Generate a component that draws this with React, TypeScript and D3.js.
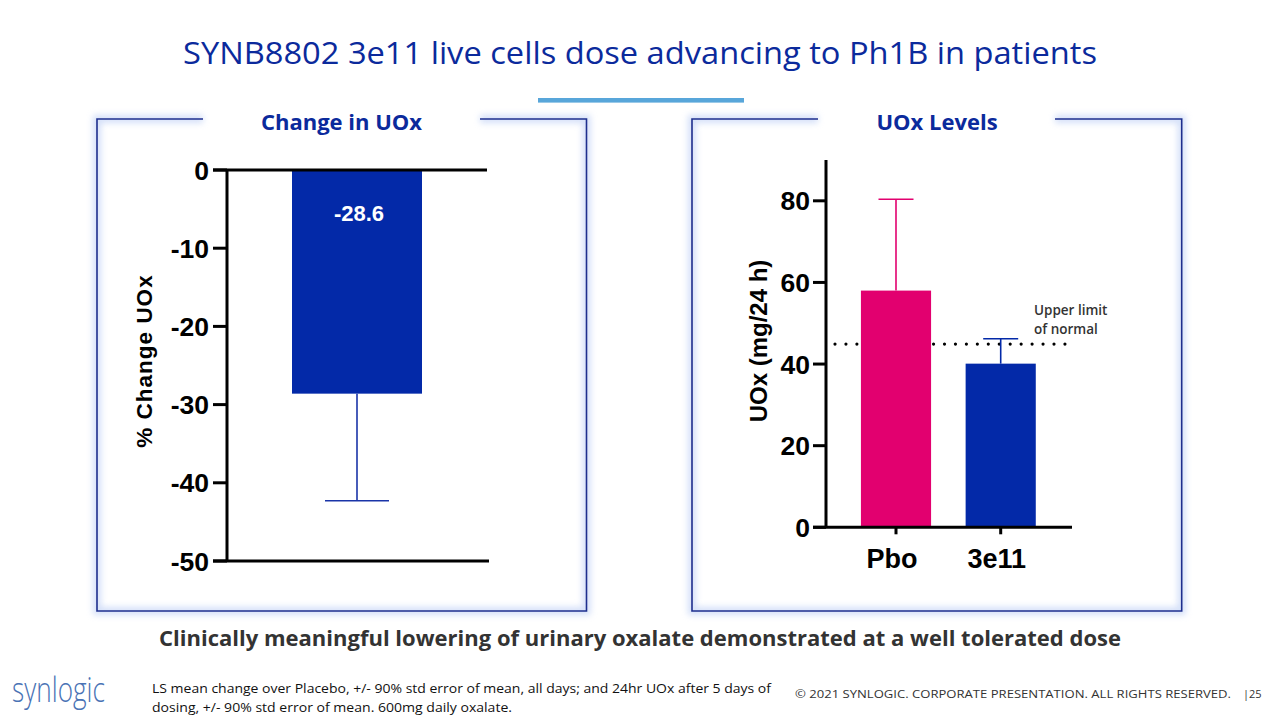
import React from "react";
import * as d3 from "d3";

// ---------- data ----------
const titleText = "SYNB8802 3e11 live cells dose advancing to Ph1B in patients";
const subtitleText = "Clinically meaningful lowering of urinary oxalate demonstrated at a well tolerated dose";
const footnoteLines = [
  "LS mean change over Placebo, +/- 90% std error of mean, all days; and 24hr UOx after 5 days of",
  "dosing, +/- 90% std error of mean. 600mg daily oxalate.",
];
const copyrightText = "© 2021 SYNLOGIC. CORPORATE PRESENTATION. ALL RIGHTS RESERVED.";
const pageNumber = "|25";

// Left panel: % change in UOx
const changeCategories = ["3e11"];
const changeValues = [-28.6];
const changeErrLow = [-42.3];
const changeTicks = [0, -10, -20, -30, -40, -50];

// Right panel: UOx levels
const levelCategories = ["Pbo", "3e11"];
const levelValues = [58.0, 40.1];
const levelErrHigh = [80.4, 46.2];
const levelColors = ["#e2006f", "#0329a8"];
const levelTicks = [0, 20, 40, 60, 80];
const upperLimitNormal = 44.9;

const NAVY = "#0b2a9c";
const AXIS = "#000";
const ARIAL = "'Liberation Sans', Arial, sans-serif";
const CAL = "'Open Sans', 'Noto Sans', sans-serif";

export default function App() {
  // left scales
  const yL = d3.scaleLinear().domain([-50, 0]).range([561, 170]);
  const xL = d3.scaleBand().domain(changeCategories).range([227, 487]).paddingInner(0.5).paddingOuter(0.25);
  // right scales
  const yR = d3.scaleLinear().domain([0, 90]).range([527.3, 160]);
  const xR = d3.scaleBand().domain(levelCategories).range([843.65, 1053.05]).paddingInner(0.33).paddingOuter(0.165);

  const panel = (x0: number, x1: number, g0: number, g1: number) => {
    const top = 119, bot = 611;
    const p = `M${g0},${top} H${x0} V${bot} H${x1} V${top} H${g1}`;
    return (
      <g>
        <path d={p} fill="none" stroke="#a9c0f2" strokeWidth={8} opacity={0.5} filter="url(#blur)" />
        <path d={p} fill="none" stroke="#1e2f8e" strokeWidth={1.6} />
      </g>
    );
  };

  return (
    <svg width={1280} height={720} style={{ position: "absolute", left: 0, top: 0, display: "block", background: "#fff" }}>
      <defs>
        <filter id="blur" x="-10%" y="-10%" width="120%" height="120%">
          <feGaussianBlur stdDeviation={3} />
        </filter>
      </defs>

      {/* Title */}
      <text x={640} y={64} textAnchor="middle" fontFamily={CAL} fontSize={31} fill={NAVY} textLength={914} lengthAdjust="spacingAndGlyphs">
        {titleText}
      </text>
      <rect x={538} y={98} width={206} height={4.6} fill="#58a6da" />

      {/* Panels */}
      {panel(97, 586.5, 203, 480)}
      {panel(692, 1181.7, 818, 1055)}
      <text x={341.5} y={130} textAnchor="middle" fontFamily={CAL} fontWeight={700} fontSize={22} fill={NAVY}>Change in UOx</text>
      <text x={937} y={130} textAnchor="middle" fontFamily={CAL} fontWeight={700} fontSize={22} fill={NAVY}>UOx Levels</text>

      {/* ---------- Left chart ---------- */}
      <g>
        {changeValues.map((v, i) => {
          const cx = xL(changeCategories[i])! + xL.bandwidth() / 2;
          return (
            <g key={i}>
              <line x1={cx} x2={cx} y1={yL(v)} y2={yL(changeErrLow[i])} stroke="#1a34a8" strokeWidth={1.6} />
              <line x1={cx - 32} x2={cx + 32} y1={yL(changeErrLow[i])} y2={yL(changeErrLow[i])} stroke="#1a34a8" strokeWidth={1.6} />
              <rect x={xL(changeCategories[i])} y={yL(0)} width={xL.bandwidth()} height={yL(v) - yL(0)} fill="#0329a8" />
              <text x={cx + 2} y={yL(0) + 51} textAnchor="middle" fontFamily={ARIAL} fontWeight={700} fontSize={22} fill="#fff">
                {v.toFixed(1)}
              </text>
            </g>
          );
        })}
        {/* axes */}
        <line x1={227} x2={227} y1={yL(0)} y2={yL(-50)} stroke={AXIS} strokeWidth={3} />
        <line x1={213} x2={487} y1={yL(0)} y2={yL(0)} stroke={AXIS} strokeWidth={3} />
        <line x1={213} x2={489} y1={yL(-50)} y2={yL(-50)} stroke={AXIS} strokeWidth={3} />
        {changeTicks.map((t) => (
          <g key={t}>
            <line x1={213} x2={227} y1={yL(t)} y2={yL(t)} stroke={AXIS} strokeWidth={3} />
            <text x={209} y={yL(t) + 9.5} textAnchor="end" fontFamily={ARIAL} fontWeight={700} fontSize={26.5} fill="#000">
              {t}
            </text>
          </g>
        ))}
        <text transform={`translate(152,361) rotate(-90)`} textAnchor="middle" fontFamily={ARIAL} fontWeight={700} fontSize={22.5} fill="#000" letterSpacing={1}>
          % Change UOx
        </text>
      </g>

      {/* ---------- Right chart ---------- */}
      <g>
        {/* upper limit of normal dotted line */}
        <line x1={835} x2={1067} y1={yR(upperLimitNormal)} y2={yR(upperLimitNormal)} stroke="#000" strokeWidth={3.2} strokeLinecap="round" strokeDasharray="0 10.95" />
        {levelValues.map((v, i) => {
          const c = levelCategories[i];
          const cx = xR(c)! + xR.bandwidth() / 2;
          return (
            <g key={c}>
              <line x1={cx} x2={cx} y1={yR(v)} y2={yR(levelErrHigh[i])} stroke={levelColors[i]} strokeWidth={1.6} />
              <line x1={cx - 17.5} x2={cx + 17.5} y1={yR(levelErrHigh[i])} y2={yR(levelErrHigh[i])} stroke={levelColors[i]} strokeWidth={1.6} />
              <rect x={xR(c)} y={yR(v)} width={xR.bandwidth()} height={yR(0) - yR(v)} fill={levelColors[i]} />
            </g>
          );
        })}
        {/* axes */}
        <line x1={826} x2={826} y1={yR(90)} y2={yR(0)} stroke={AXIS} strokeWidth={3} />
        <line x1={813} x2={1072} y1={yR(0)} y2={yR(0)} stroke={AXIS} strokeWidth={3} />
        {levelTicks.map((t) => (
          <g key={t}>
            <line x1={813} x2={826} y1={yR(t)} y2={yR(t)} stroke={AXIS} strokeWidth={3} />
            <text x={810} y={yR(t) + 9.5} textAnchor="end" fontFamily={ARIAL} fontWeight={700} fontSize={26.5} fill="#000">
              {t}
            </text>
          </g>
        ))}
        {levelCategories.map((c) => {
          const cx = xR(c)! + xR.bandwidth() / 2;
          return (
            <g key={c}>
              <line x1={cx} x2={cx} y1={yR(0)} y2={yR(0) + 7} stroke={AXIS} strokeWidth={3} />
              <text x={cx - 4} y={568} textAnchor="middle" fontFamily={ARIAL} fontWeight={700} fontSize={27} fill="#000">
                {c}
              </text>
            </g>
          );
        })}
        <text transform={`translate(767,341) rotate(-90)`} textAnchor="middle" fontFamily={ARIAL} fontWeight={700} fontSize={24} fill="#000">
          UOx (mg/24 h)
        </text>
        <text x={1034} y={315} fontFamily={CAL} fontWeight={600} fontSize={13.5} fill="#333">Upper limit</text>
        <text x={1034} y={334} fontFamily={CAL} fontWeight={600} fontSize={13.5} fill="#333">of normal</text>
      </g>

      {/* Subtitle */}
      <text x={640} y={646} textAnchor="middle" fontFamily={CAL} fontWeight={700} fontSize={21} fill="#333" textLength={962} lengthAdjust="spacingAndGlyphs">
        {subtitleText}
      </text>

      {/* Footer */}
      <text x={12} y={702} fontFamily={CAL} fontWeight={300} fontSize={34} fill="#4a73b5" textLength={93} lengthAdjust="spacingAndGlyphs">synlogic</text>
      <text x={152} y={693} fontFamily={CAL} fontSize={13} fill="#111" textLength={619} lengthAdjust="spacingAndGlyphs">{footnoteLines[0]}</text>
      <text x={152} y={712} fontFamily={CAL} fontSize={13} fill="#111" textLength={360} lengthAdjust="spacingAndGlyphs">{footnoteLines[1]}</text>
      <text x={795} y={698} fontFamily={CAL} fontSize={11} fill="#333" textLength={436} lengthAdjust="spacingAndGlyphs">{copyrightText}</text>
      <text x={1243} y={698} fontFamily={CAL} fontSize={11} fill="#333">{pageNumber}</text>
    </svg>
  );
}
